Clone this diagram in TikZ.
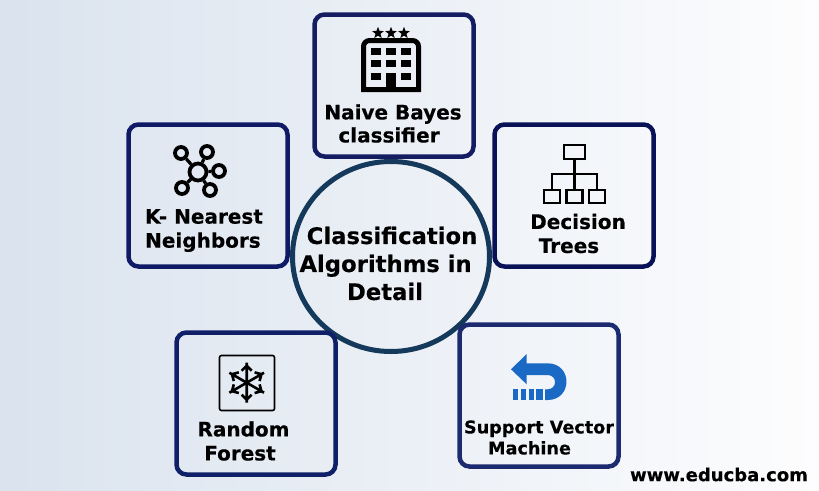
\documentclass[tikz,border=0pt]{standalone}
\usepackage{fontspec}
\setmainfont[BoldFeatures={FakeBold=0.3}]{DejaVu Sans}
\usetikzlibrary{shapes.geometric}
\definecolor{bgleft}{HTML}{DAE3EE}
\definecolor{bgright}{HTML}{FDFDFE}
\definecolor{ringblue}{HTML}{14395A}
\definecolor{navya}{HTML}{141C62}
\definecolor{navyb}{HTML}{0E1A66}
\definecolor{navyc}{HTML}{0A1257}
\definecolor{navyd}{HTML}{0F2068}
\definecolor{navye}{HTML}{1C2A70}
\definecolor{arrowblue}{HTML}{1A69C4}
\begin{document}
\begin{tikzpicture}[x=1pt, y=-1pt]
		% formats
		\tikzstyle{every node} = [font=\bfseries]
		\tikzstyle{box} = [draw, rounded corners=10pt, line width=4.5pt, minimum width=159pt, minimum height=142pt]
		\tikzstyle{ring} = [draw=ringblue, ellipse, line width=5pt, minimum width=197pt, minimum height=190pt, inner sep=0pt]
		\tikzstyle{caption} = [align=center, inner sep=0pt, font=\fontsize{20}{24}\selectfont\bfseries]
		\tikzstyle{dot} = [draw, circle, line width=3.8pt, inner sep=0pt, minimum size=12pt]
		\tikzstyle{leaf} = [draw, line width=2.4pt, minimum width=16pt, minimum height=13.5pt, inner sep=0pt]
		\tikzstyle{pane} = [fill=black, minimum width=10pt, minimum height=7pt, inner sep=0pt]
		\tikzstyle{tiny} = [fill=black, star, star points=5, star point ratio=2.4, minimum size=12.5pt, inner sep=0pt]
		\useasboundingbox (0,0) rectangle (819,490);
		\shade [left color=bgleft, right color=bgright] (0,0) rectangle (819,490);
		% nodes
		\node [ring] (centre) at (391,256.5) {};
		\node [box, draw=navya] (naive_bayes) [above of =centre, node distance=171pt, xshift=3pt] {};
		\node [box, draw=navyb] (knn) [left of =centre, node distance=183pt, yshift=61pt] {};
		\node [box, draw=navyc] (decision) [right of =centre, node distance=183pt, yshift=61pt] {};
		\node [box, draw=navyd] (forest) [below of =centre, node distance=147pt, xshift=-135pt] {};
		\node [box, draw=navye] (svm) [below of =centre, node distance=139pt, xshift=148pt] {};
		% texts
		\node [caption, font=\fontsize{22.7}{28}\selectfont\bfseries] (centre_text) [below of =centre, node distance=7pt, xshift=1pt] {Classification\\\hspace*{-12.8pt}Algorithms in\\\hspace*{-14pt}Detail};
		\node [caption, font=\fontsize{20}{23}\selectfont\bfseries] (naive_text) [below of =naive_bayes, node distance=38pt, xshift=-1pt] {Naive Bayes\\\hspace*{-8pt}classifier};
		\node [caption, align=left] (knn_text) [below of =knn, node distance=35pt, xshift=-4pt] {K- Nearest\\Neighbors};
		\node [caption] (decision_text) [below of =decision, node distance=38pt, xshift=4pt] {Decision\\\hspace*{-18pt}Trees};
		\node [caption] (forest_text) [below of =forest, node distance=37.5pt, xshift=-12.5pt] {Random\\\hspace*{-7pt}Forest};
		\node [caption, font=\fontsize{17.6}{21}\selectfont\bfseries] (svm_text) [below of =svm, node distance=42pt] {Support Vector\\\hspace*{-19pt}Machine};
		\node [caption, font=\fontsize{18}{21}\selectfont\bfseries] (site) at (719,474.5) {www.educba.com};
		% hotel
		\draw [line width=5pt] (363.5,89.5) [rounded corners=6pt] -- (363.5,40.5) -- (418.5,40.5) [sharp corners] -- (418.5,89.5) -- cycle;
		\foreach \col/\x in {a/376,b/391,c/406} \foreach \row/\y in {a/51.5,b/63.5} \node [pane] (pane_\col\row) at (\x,\y) {};
		\node [pane] (pane_ac) at (376,76.5) {};
		\node [pane] (pane_cc) at (406,76.5) {};
		\node [pane, minimum height=19pt] (door) at (391,82.5) {};
		\foreach \n/\x in {a/378,b/391,c/404} \node [tiny] (star_\n) at (\x,33) {};
		% neighbours
		\node [dot, minimum size=17pt] (hub) at (198,172) {};
		\foreach \n/\x/\y in {a/181/153,b/207/152,c/219/171,d/210/190,e/182/188} {
			\node [dot] (sat_\n) at (\x,\y) {};
			\draw [line width=3.2pt] (hub) -- (sat_\n);
		}
		% tree
		\node [leaf, minimum width=21pt] (root) at (574.5,152) {};
		\node [leaf] (leaf_b) at (574.5,196.5) {};
		\node [leaf] (leaf_a) at (552,196.5) {};
		\node [leaf] (leaf_c) at (597,196.5) {};
		\draw [line width=2.4pt] (root) -- (leaf_b);
		\draw [line width=2.4pt] (leaf_a.north) |- (574.5,174) -| (leaf_c.north);
		% snowflake
		\node [draw, line width=1.6pt, rounded corners=2pt, minimum size=55pt] (frame) at (247,383) {};
		\foreach \a in {30,90,...,330} {
			\draw [line width=2.6pt, rotate around={\a:(246.7,382.7)}] (246.7,382.7) -- ++(20,0) ++(-8,-5) -- ++(5,5) -- ++(-5,5);
		}
		% arrow
		\fill [arrowblue] (511,369.3) -- (526.7,354) -- (526.7,363.3) -- (547.5,363.3) .. controls (572.8,363.3) and (572.8,400) .. (547.5,400) -- (545,400) -- (545,389.3) -- (547.5,389.3) .. controls (557.5,389.3) and (557.5,375) .. (547.5,375) -- (526.7,375) -- (526.7,384.3) -- cycle;
		\foreach \x/\w in {513.3/5,521/5,528.7/5,536.3/6.7} \fill [arrowblue] (\x,389.3) rectangle ++(\w,10.7);
\end{tikzpicture}
\end{document}
